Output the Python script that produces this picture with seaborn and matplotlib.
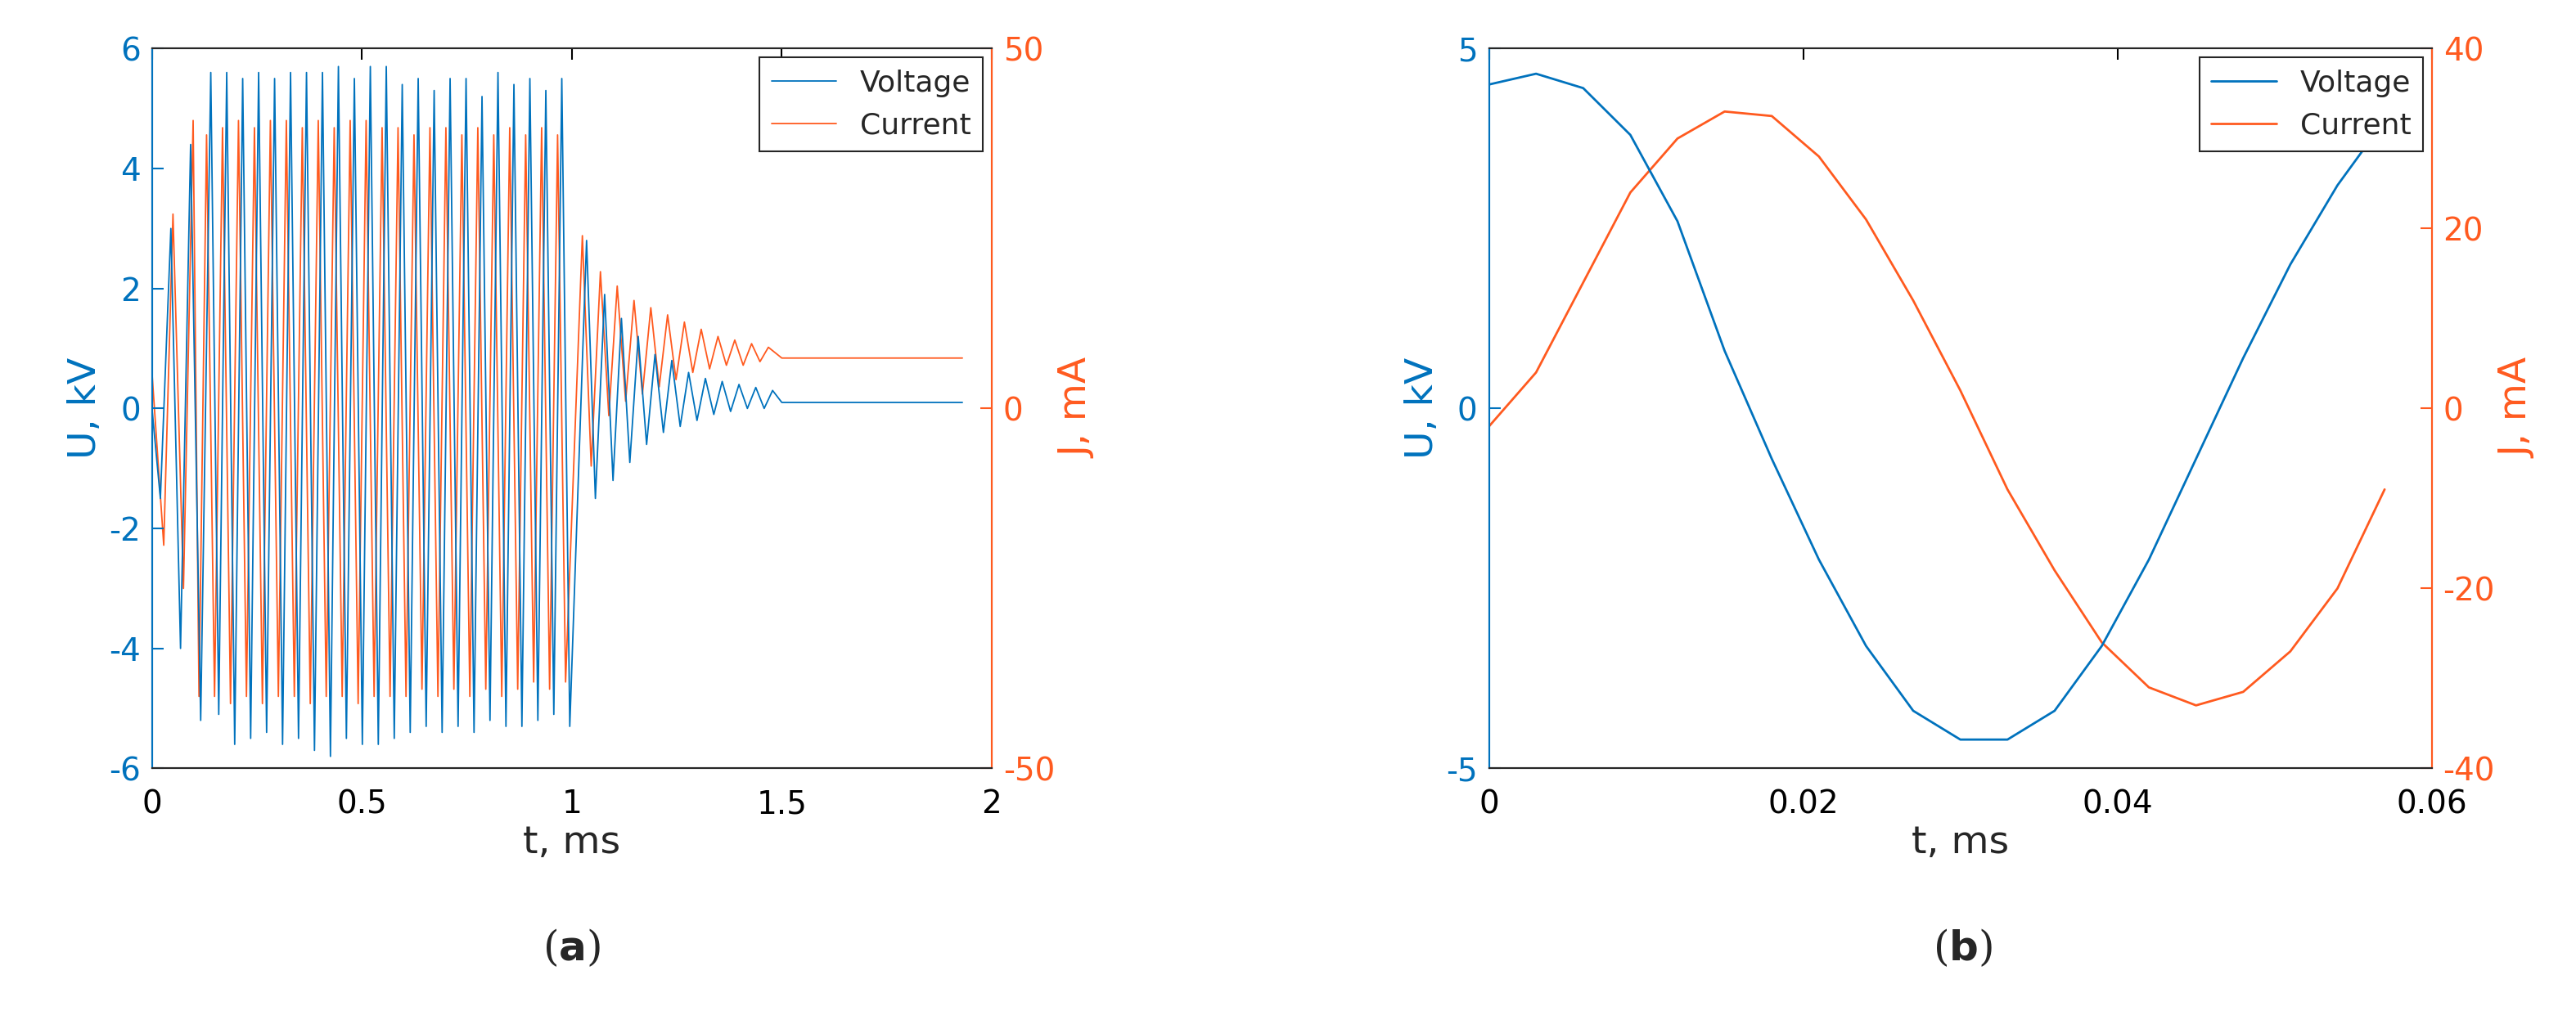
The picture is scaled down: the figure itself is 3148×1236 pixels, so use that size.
import numpy as np
import pandas as pd
import matplotlib
matplotlib.use('Agg')
import matplotlib.pyplot as plt
import seaborn as sns

sns.set_style('white')
plt.rcParams['font.family'] = ['DejaVu Sans']
plt.rcParams['axes.unicode_minus'] = False

BLUE = '#0072BD'
ORANGE = '#FF5A1F'

# panel (a): extremes
volt_peak_t = [0.045, 0.092, 0.140, 0.178, 0.216, 0.254, 0.292, 0.330, 0.368, 0.406, 0.444, 0.482,
               0.520, 0.558, 0.596, 0.634, 0.672, 0.710, 0.748, 0.786, 0.824, 0.862, 0.900, 0.938,
               0.976, 1.035, 1.078, 1.118, 1.158, 1.198, 1.238, 1.278, 1.318, 1.358, 1.398, 1.438, 1.478]
volt_peak_v = [3.0, 4.4, 5.6, 5.6, 5.5, 5.6, 5.5, 5.6, 5.6, 5.6, 5.7, 5.5, 5.7, 5.7, 5.4, 5.5, 5.3,
               5.5, 5.5, 5.2, 5.6, 5.4, 5.5, 5.3, 5.5, 2.8, 1.9, 1.5, 1.2, 0.9, 0.8, 0.6, 0.5, 0.45,
               0.4, 0.35, 0.3]
volt_trough_t = [0.020, 0.068, 0.116, 0.159, 0.197, 0.235, 0.273, 0.311, 0.349, 0.387, 0.425, 0.463,
                 0.501, 0.539, 0.577, 0.615, 0.653, 0.691, 0.729, 0.767, 0.805, 0.843, 0.881, 0.919,
                 0.957, 0.995, 1.056, 1.098, 1.138, 1.178, 1.218, 1.258, 1.298, 1.338, 1.378, 1.418, 1.458]
volt_trough_v = [-1.5, -4.0, -5.2, -5.1, -5.6, -5.5, -5.4, -5.6, -5.5, -5.7, -5.8, -5.5, -5.6, -5.6,
                 -5.5, -5.4, -5.3, -5.4, -5.3, -5.4, -5.2, -5.3, -5.3, -5.2, -5.1, -5.3, -1.5, -1.2,
                 -0.9, -0.6, -0.4, -0.3, -0.2, -0.1, -0.05, 0.0, 0.0]
volt_ends_t = [0.0, 1.50, 1.93]
volt_ends_v = [0.0, 0.1, 0.1]

curr_peak_t = [0.050, 0.098, 0.130, 0.168, 0.206, 0.244, 0.282, 0.320, 0.358, 0.396, 0.434, 0.472,
               0.510, 0.548, 0.586, 0.624, 0.662, 0.700, 0.738, 0.776, 0.814, 0.852, 0.890, 0.928,
               0.966, 1.025, 1.068, 1.108, 1.148, 1.188, 1.228, 1.268, 1.308, 1.348, 1.388, 1.428, 1.468]
curr_peak_v = [27, 40, 38, 39, 40, 39, 40, 40, 39, 40, 39, 40, 40, 39, 39, 38, 39, 39, 38, 39, 38,
               39, 38, 39, 38, 24, 19, 17, 15, 14, 13, 12, 11, 10, 9.5, 9, 8.5]
curr_trough_t = [0.028, 0.075, 0.112, 0.149, 0.187, 0.225, 0.263, 0.301, 0.339, 0.377, 0.415, 0.453,
                 0.491, 0.529, 0.567, 0.605, 0.643, 0.681, 0.719, 0.757, 0.795, 0.833, 0.871, 0.909,
                 0.947, 0.985, 1.046, 1.088, 1.128, 1.168, 1.208, 1.248, 1.288, 1.328, 1.368, 1.408, 1.448]
curr_trough_v = [-19, -25, -40, -40, -41, -40, -41, -40, -40, -41, -40, -40, -41, -40, -40, -40,
                 -39, -40, -39, -40, -39, -40, -39, -38, -39, -38, -8, -1, 1, 2, 3, 4, 5, 5.5, 6, 6, 6.5]
curr_ends_t = [0.0, 1.50, 1.93]
curr_ends_v = [5, 7, 7]

# panel (b)
b_t = [0, 0.003, 0.006, 0.009, 0.012, 0.015, 0.018, 0.021, 0.024, 0.027, 0.030, 0.033, 0.036,
       0.039, 0.042, 0.045, 0.048, 0.051, 0.054, 0.057]
b_volt = [4.5, 4.65, 4.45, 3.8, 2.6, 0.8, -0.7, -2.1, -3.3, -4.2, -4.6, -4.6, -4.2, -3.3, -2.1,
          -0.7, 0.7, 2.0, 3.1, 4.0]
b_curr = [-2, 4, 14, 24, 30, 33, 32.5, 28, 21, 12, 2, -9, -18, -26, -31, -33, -31.5, -27, -20, -9]


def merge(*pairs):
    t = np.concatenate([p[0] for p in pairs])
    v = np.concatenate([p[1] for p in pairs])
    o = np.argsort(t, kind='stable')
    return pd.DataFrame({'t': t[o], 'v': v[o]})


va = merge((volt_peak_t, volt_peak_v), (volt_trough_t, volt_trough_v), (volt_ends_t, volt_ends_v))
ca = merge((curr_peak_t, curr_peak_v), (curr_trough_t, curr_trough_v), (curr_ends_t, curr_ends_v))

fig = plt.figure(figsize=(31.48, 12.36), dpi=100)
TICK = 28
LAB = 34


def style(ax, ax2, xlim, xt, ylim, yt, y2lim, y2t):
    ax.set_xlim(xlim); ax.set_ylim(ylim); ax2.set_ylim(y2lim)
    ax.set_xticks(xt); ax.set_xticklabels([f'{x:g}' for x in xt])
    ax.set_yticks(yt); ax2.set_yticks(y2t)
    ax.tick_params(axis='both', direction='in', labelsize=TICK, length=10, width=1.5, top=True, pad=10)
    ax.tick_params(axis='x', pad=18, colors='black')
    ax.tick_params(axis='y', colors=BLUE)
    ax2.tick_params(axis='y', direction='in', labelsize=TICK, length=10, width=1.5, colors=ORANGE, pad=10)
    for a in (ax, ax2):
        for s in a.spines.values():
            s.set_linewidth(1.5)
        a.spines['left'].set_color(BLUE)
        a.spines['right'].set_color(ORANGE)
        a.spines['top'].set_color('#262626')
        a.spines['bottom'].set_color('#262626')
    ax.set_xlabel('t, ms', fontsize=LAB, color='#262626', labelpad=4)
    ax.set_ylabel('U, kV', fontsize=LAB, color=BLUE)
    ax2.set_ylabel('J, mA', fontsize=LAB, color=ORANGE)
    ax.set_zorder(ax2.get_zorder() + 1); ax.patch.set_visible(False)


def add_legend(ax, ax2):
    h1 = ax.get_lines()[0]; h2 = ax2.get_lines()[0]
    leg = ax.legend([h1, h2], ['Voltage', 'Current'], loc='upper right', fontsize=26, fancybox=False,
                    edgecolor='#262626', handlelength=2.2, borderaxespad=0.3, framealpha=1)
    leg.get_frame().set_linewidth(1.5)


ax = fig.add_axes([0.059, 0.24, 0.326, 0.712])
ax2 = ax.twinx()
sns.lineplot(data=ca, x='t', y='v', sort=False, estimator=None, ax=ax2, color=ORANGE, lw=1.3)
sns.lineplot(data=va, x='t', y='v', sort=False, estimator=None, ax=ax, color=BLUE, lw=1.3)
style(ax, ax2, (0, 2), [0, 0.5, 1, 1.5, 2], (-6, 6), [-6, -4, -2, 0, 2, 4, 6],
      (-50, 50), [-50, 0, 50])
add_legend(ax, ax2)

bx = fig.add_axes([0.578, 0.24, 0.366, 0.712])
bx2 = bx.twinx()
sns.lineplot(x=b_t, y=b_curr, sort=False, estimator=None, ax=bx2, color=ORANGE, lw=2)
sns.lineplot(x=b_t, y=b_volt, sort=False, estimator=None, ax=bx, color=BLUE, lw=2)
style(bx, bx2, (0, 0.06), [0, 0.02, 0.04, 0.06], (-5, 5), [-5, 0, 5],
      (-40, 40), [-40, -20, 0, 20, 40])
add_legend(bx, bx2)

fig.text(0.222, 0.05, r'($\mathbf{a}$)', fontsize=36, ha='center', family='DejaVu Serif')
fig.text(0.762, 0.05, r'($\mathbf{b}$)', fontsize=36, ha='center', family='DejaVu Serif')

fig.savefig('out.png', dpi=100)
